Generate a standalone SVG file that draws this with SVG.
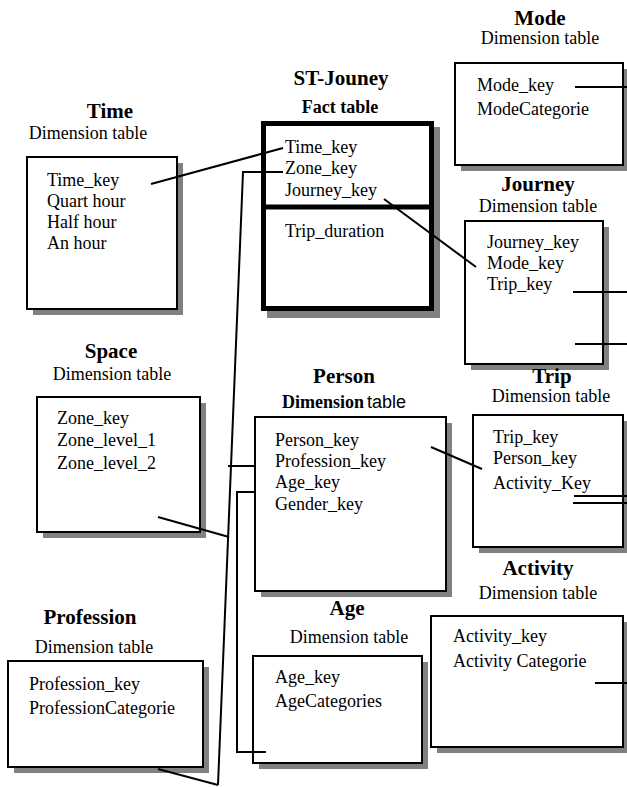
<svg xmlns="http://www.w3.org/2000/svg" width="627" height="787" viewBox="0 0 627 787">
  <style>
    text { font-family: "Liberation Serif", "Times New Roman", serif; fill: #000; }
    .title { font-size: 21px; font-weight: bold; text-anchor: middle; }
    .sub { font-size: 18px; text-anchor: middle; }
    .row { font-size: 18px; }
    .shadow { fill: #808080; stroke: none; }
    .box { fill: #fff; stroke: #000; stroke-width: 2; }
    .fact { fill: #fff; stroke: #000; stroke-width: 5; }
    .link { fill: none; stroke: #000; stroke-width: 2; }
  </style>
  <rect width="627" height="787" fill="#fff"/>

  <!-- Time dimension -->
  <g id="time">
    <text class="title" x="110" y="118">Time</text>
    <text class="sub" x="88" y="139">Dimension table</text>
    <rect class="shadow" x="33" y="163" width="150" height="152"/>
    <rect class="box" x="27" y="157" width="150" height="152"/>
    <text class="row" x="47" y="186">Time_key</text>
    <text class="row" x="47" y="207">Quart hour</text>
    <text class="row" x="47" y="228">Half hour</text>
    <text class="row" x="47" y="249">An hour</text>
  </g>

  <!-- Fact table -->
  <g id="st-jouney">
    <text class="title" x="341" y="85">ST-Jouney</text>
    <text class="sub" x="340" y="113" font-weight="bold">Fact table</text>
    <rect class="shadow" x="267" y="127" width="173" height="191"/>
    <rect class="fact" x="263.5" y="123.5" width="168" height="185"/>
    <line x1="263.5" y1="207" x2="431.5" y2="207" stroke="#000" stroke-width="5"/>
    <text class="row" x="285" y="153">Time_key</text>
    <text class="row" x="285" y="174">Zone_key</text>
    <text class="row" x="285" y="196">Journey_key</text>
    <text class="row" x="285" y="237">Trip_duration</text>
  </g>

  <!-- Mode dimension -->
  <g id="mode">
    <text class="title" x="540" y="25">Mode</text>
    <text class="sub" x="540" y="44">Dimension table</text>
    <rect class="shadow" x="461" y="69" width="168" height="102"/>
    <rect class="box" x="455" y="63" width="168" height="102"/>
    <text class="row" x="477" y="91">Mode_key</text>
    <text class="row" x="477" y="115">ModeCategorie</text>
  </g>

  <!-- Journey dimension -->
  <g id="journey">
    <text class="title" x="538" y="191">Journey</text>
    <text class="sub" x="538" y="212">Dimension table</text>
    <rect class="shadow" x="471" y="227" width="138" height="143"/>
    <rect class="box" x="465" y="221" width="138" height="143"/>
    <text class="row" x="487" y="248">Journey_key</text>
    <text class="row" x="487" y="269">Mode_key</text>
    <text class="row" x="487" y="290">Trip_key</text>
  </g>

  <!-- Space dimension -->
  <g id="space">
    <text class="title" x="111" y="358">Space</text>
    <text class="sub" x="112" y="380">Dimension table</text>
    <rect class="shadow" x="43" y="403" width="163" height="135"/>
    <rect class="box" x="37" y="397" width="163" height="135"/>
    <text class="row" x="57" y="424">Zone_key</text>
    <text class="row" x="57" y="446">Zone_level_1</text>
    <text class="row" x="57" y="469">Zone_level_2</text>
  </g>

  <!-- Person dimension -->
  <g id="person">
    <text class="title" x="344" y="383">Person</text>
    <text class="row" x="282" y="408" font-weight="bold">Dimension</text>
    <text class="row" x="367" y="408" style="font-family: 'Liberation Sans', Arial, sans-serif;" font-size="17">table</text>
    <rect class="shadow" x="261" y="423" width="191" height="174"/>
    <rect class="box" x="255" y="417" width="191" height="174"/>
    <text class="row" x="275" y="446">Person_key</text>
    <text class="row" x="275" y="467">Profession_key</text>
    <text class="row" x="275" y="488">Age_key</text>
    <text class="row" x="275" y="510">Gender_key</text>
  </g>

  <!-- Trip dimension -->
  <g id="trip">
    <text class="title" x="552" y="383">Trip</text>
    <text class="sub" x="551" y="402">Dimension table</text>
    <rect class="shadow" x="479" y="421" width="150" height="132"/>
    <rect class="box" x="473" y="415" width="150" height="132"/>
    <text class="row" x="493" y="443">Trip_key</text>
    <text class="row" x="493" y="464">Person_key</text>
    <text class="row" x="493" y="489">Activity_Key</text>
  </g>

  <!-- Activity dimension -->
  <g id="activity">
    <text class="title" x="538" y="575">Activity</text>
    <text class="sub" x="538" y="599">Dimension table</text>
    <rect class="shadow" x="437" y="622" width="192" height="131"/>
    <rect class="box" x="431" y="616" width="192" height="131"/>
    <text class="row" x="453" y="642">Activity_key</text>
    <text class="row" x="453" y="667">Activity Categorie</text>
  </g>

  <!-- Age dimension -->
  <g id="age">
    <text class="title" x="347" y="615">Age</text>
    <text class="sub" x="349" y="643">Dimension table</text>
    <rect class="shadow" x="259" y="662" width="169" height="107"/>
    <rect class="box" x="253" y="656" width="169" height="107"/>
    <text class="row" x="275" y="683">Age_key</text>
    <text class="row" x="275" y="707">AgeCategories</text>
  </g>

  <!-- Profession dimension -->
  <g id="profession">
    <text class="title" x="90" y="624">Profession</text>
    <text class="sub" x="94" y="653">Dimension table</text>
    <rect class="shadow" x="14" y="667" width="195" height="106"/>
    <rect class="box" x="8" y="661" width="195" height="106"/>
    <text class="row" x="29" y="690">Profession_key</text>
    <text class="row" x="29" y="714">ProfessionCategorie</text>
  </g>

  <!-- Key links -->
  <g id="connectors">
    <line class="link" x1="151" y1="184" x2="283" y2="148"/>
    <polyline class="link" points="283,172 243,172 218,785"/>
    <line class="link" x1="384" y1="199" x2="476" y2="267"/>
    <line class="link" x1="575" y1="87" x2="627" y2="87"/>
    <line class="link" x1="573" y1="292" x2="627" y2="292"/>
    <line class="link" x1="575" y1="344" x2="627" y2="344"/>
    <line class="link" x1="158" y1="517" x2="229" y2="537"/>
    <line class="link" x1="158" y1="769" x2="218" y2="785"/>
    <line class="link" x1="228" y1="466" x2="255" y2="466"/>
    <polyline class="link" points="255,492 237,492 237,752 266,752"/>
    <line class="link" x1="431" y1="447" x2="482" y2="469"/>
    <line class="link" x1="574" y1="496" x2="627" y2="496"/>
    <line class="link" x1="573" y1="503" x2="627" y2="503"/>
    <line class="link" x1="595" y1="683" x2="627" y2="683"/>
  </g>
</svg>
